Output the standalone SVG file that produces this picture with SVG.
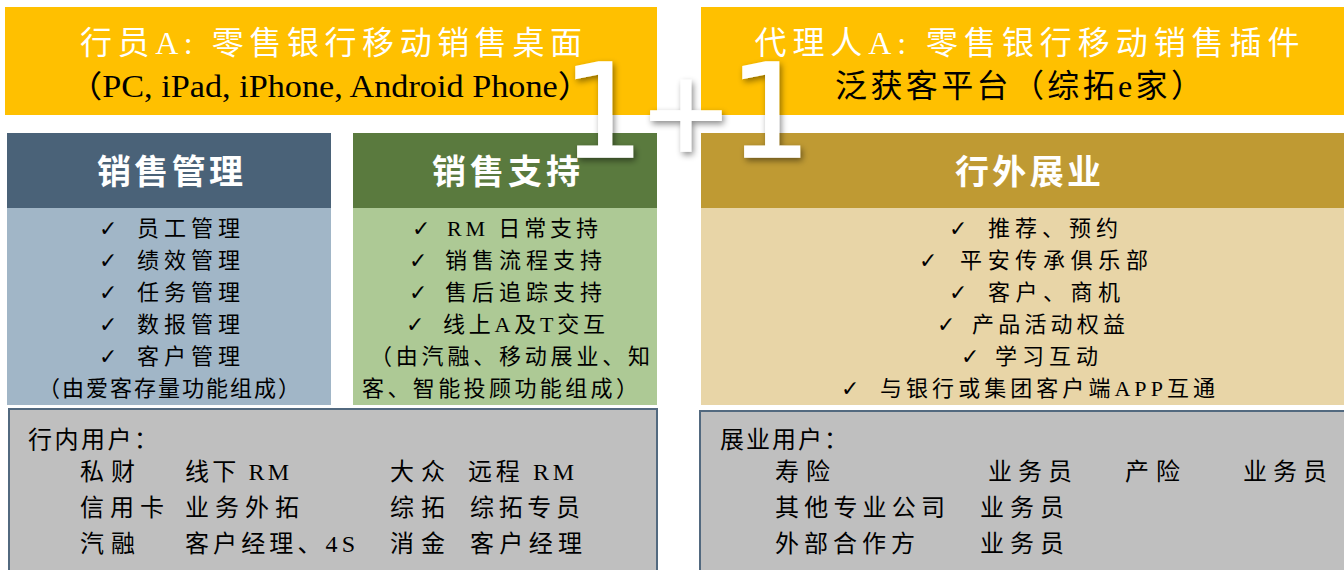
<svg xmlns="http://www.w3.org/2000/svg" width="1344" height="570" viewBox="0 0 1344 570">
<defs>
<style>
.cjk{font-family:"Liberation Serif","Noto Sans CJK SC",serif;}
.w{fill:#ffffff;}
.k{fill:#000000;}
.t1{font-size:32px;}
.t2{font-size:31px;}
.hd{font-size:34px;font-weight:bold;fill:#ffffff;}
.li{font-size:22px;fill:#000000;}
.ck{font-family:"DejaVu Sans",sans-serif;font-size:22px;font-weight:bold;fill:#000000;}
.us{font-size:24px;fill:#000000;}
.gray{fill:#bfbfbf;stroke:#52697f;stroke-width:2;}
.big{font-family:"DejaVu Sans",sans-serif;font-size:130px;fill:#ffffff;stroke:#ffffff;stroke-width:1.5;text-anchor:middle;}
.plus{font-size:112px;}
</style>
<filter id="sh" x="-20%" y="-20%" width="140%" height="140%">
<feDropShadow dx="2" dy="3" stdDeviation="3" flood-color="#000000" flood-opacity="0.45"/>
</filter>
</defs>
<rect width="1344" height="570" fill="#ffffff"/>

<g id="top-left">
<rect x="5" y="7" width="652" height="108" fill="#ffc000"/>
<text class="cjk w t1" x="331" y="54" text-anchor="middle" textLength="502" lengthAdjust="spacing">行员A: 零售银行移动销售桌面</text>
<text class="cjk k t2" x="330" y="97" text-anchor="middle" textLength="524" lengthAdjust="spacingAndGlyphs">（PC, iPad, iPhone, Android Phone）</text>
</g>

<g id="top-right">
<rect x="701" y="7" width="643" height="108" fill="#ffc000"/>
<text class="cjk w t1" x="1027" y="54" text-anchor="middle" textLength="545" lengthAdjust="spacing">代理人A: 零售银行移动销售插件</text>
<text class="cjk k t1" x="1019" y="97" text-anchor="middle" textLength="368" lengthAdjust="spacing">泛获客平台（综拓e家）</text>
</g>

<g id="sales-mgmt">
<rect x="7" y="133" width="324" height="75" fill="#4a6278"/>
<rect x="7" y="208" width="324" height="197" fill="#a1b6c7"/>
<text class="cjk hd" x="170" y="184" text-anchor="middle" textLength="146" lengthAdjust="spacing">销售管理</text>
<text class="ck" x="99" y="236">✓</text><text class="cjk li" x="137" y="236" textLength="103" lengthAdjust="spacing">员工管理</text>
<text class="ck" x="99" y="268">✓</text><text class="cjk li" x="137" y="268" textLength="103" lengthAdjust="spacing">绩效管理</text>
<text class="ck" x="99" y="300">✓</text><text class="cjk li" x="137" y="300" textLength="103" lengthAdjust="spacing">任务管理</text>
<text class="ck" x="99" y="332">✓</text><text class="cjk li" x="137" y="332" textLength="103" lengthAdjust="spacing">数报管理</text>
<text class="ck" x="99" y="364">✓</text><text class="cjk li" x="137" y="364" textLength="103" lengthAdjust="spacing">客户管理</text>
<text class="cjk li" x="38" y="396" textLength="262" lengthAdjust="spacing">（由爱客存量功能组成）</text>
</g>

<g id="sales-support">
<rect x="353" y="133" width="304" height="75" fill="#5a7a3e"/>
<rect x="353" y="208" width="304" height="197" fill="#adc995"/>
<text class="cjk hd" x="506" y="184" text-anchor="middle" textLength="148" lengthAdjust="spacing">销售支持</text>
<text class="ck" x="412" y="236">✓</text><text class="cjk li" x="447" y="236" textLength="151" lengthAdjust="spacing">RM 日常支持</text>
<text class="ck" x="409" y="268">✓</text><text class="cjk li" x="445" y="268" textLength="157" lengthAdjust="spacing">销售流程支持</text>
<text class="ck" x="409" y="300">✓</text><text class="cjk li" x="445" y="300" textLength="157" lengthAdjust="spacing">售后追踪支持</text>
<text class="ck" x="406" y="332">✓</text><text class="cjk li" x="443" y="332" textLength="162" lengthAdjust="spacing">线上A及T交互</text>
<text class="cjk li" x="370" y="364" textLength="280" lengthAdjust="spacing">（由汽融、移动展业、知</text>
<text class="cjk li" x="362" y="396" textLength="276" lengthAdjust="spacing">客、智能投顾功能组成）</text>
</g>

<g id="external">
<rect x="701" y="133" width="643" height="75" fill="#bf9a33"/>
<rect x="701" y="208" width="643" height="197" fill="#e8d5a7"/>
<text class="cjk hd" x="1028" y="184" text-anchor="middle" textLength="146" lengthAdjust="spacing">行外展业</text>
<text class="ck" x="949" y="236">✓</text><text class="cjk li" x="988" y="236" textLength="130" lengthAdjust="spacing">推荐、预约</text>
<text class="ck" x="919" y="268">✓</text><text class="cjk li" x="960" y="268" textLength="188" lengthAdjust="spacing">平安传承俱乐部</text>
<text class="ck" x="949" y="300">✓</text><text class="cjk li" x="988" y="300" textLength="132" lengthAdjust="spacing">客户、商机</text>
<text class="ck" x="937" y="332">✓</text><text class="cjk li" x="972" y="332" textLength="153" lengthAdjust="spacing">产品活动权益</text>
<text class="ck" x="961" y="364">✓</text><text class="cjk li" x="995" y="364" textLength="103" lengthAdjust="spacing">学习互动</text>
<text class="ck" x="841" y="396">✓</text><text class="cjk li" x="880" y="396" textLength="335" lengthAdjust="spacing">与银行或集团客户端APP互通</text>
</g>

<g id="internal-users">
<rect class="gray" x="9" y="409" width="648" height="163"/>
<text class="cjk us" x="28" y="448" textLength="130" lengthAdjust="spacing">行内用户：</text>
<text class="cjk us" x="80" y="480" textLength="55" lengthAdjust="spacing">私财</text>
<text class="cjk us" x="185" y="480" textLength="104" lengthAdjust="spacing">线下 RM</text>
<text class="cjk us" x="390" y="480" textLength="55" lengthAdjust="spacing">大众</text>
<text class="cjk us" x="468" y="480" textLength="106" lengthAdjust="spacing">远程 RM</text>
<text class="cjk us" x="80" y="516" textLength="84" lengthAdjust="spacing">信用卡</text>
<text class="cjk us" x="185" y="516" textLength="114" lengthAdjust="spacing">业务外拓</text>
<text class="cjk us" x="390" y="516" textLength="55" lengthAdjust="spacing">综拓</text>
<text class="cjk us" x="470" y="516" textLength="110" lengthAdjust="spacing">综拓专员</text>
<text class="cjk us" x="80" y="552" textLength="55" lengthAdjust="spacing">汽融</text>
<text class="cjk us" x="185" y="552" textLength="170" lengthAdjust="spacing">客户经理、4S</text>
<text class="cjk us" x="390" y="552" textLength="55" lengthAdjust="spacing">消金</text>
<text class="cjk us" x="470" y="552" textLength="112" lengthAdjust="spacing">客户经理</text>
</g>

<g id="external-users">
<rect class="gray" x="700" y="411" width="648" height="163"/>
<text class="cjk us" x="720" y="448" textLength="128" lengthAdjust="spacing">展业用户：</text>
<text class="cjk us" x="775" y="480" textLength="55" lengthAdjust="spacing">寿险</text>
<text class="cjk us" x="988" y="480" textLength="84" lengthAdjust="spacing">业务员</text>
<text class="cjk us" x="1125" y="480" textLength="55" lengthAdjust="spacing">产险</text>
<text class="cjk us" x="1243" y="480" textLength="84" lengthAdjust="spacing">业务员</text>
<text class="cjk us" x="775" y="516" textLength="170" lengthAdjust="spacing">其他专业公司</text>
<text class="cjk us" x="980" y="516" textLength="84" lengthAdjust="spacing">业务员</text>
<text class="cjk us" x="775" y="552" textLength="140" lengthAdjust="spacing">外部合作方</text>
<text class="cjk us" x="980" y="552" textLength="84" lengthAdjust="spacing">业务员</text>
</g>

<g id="one-plus-one" filter="url(#sh)">
<text class="big" x="603" y="157">1</text>
<text class="big plus" x="686" y="151">+</text>
<text class="big" x="770" y="157">1</text>
</g>
</svg>
